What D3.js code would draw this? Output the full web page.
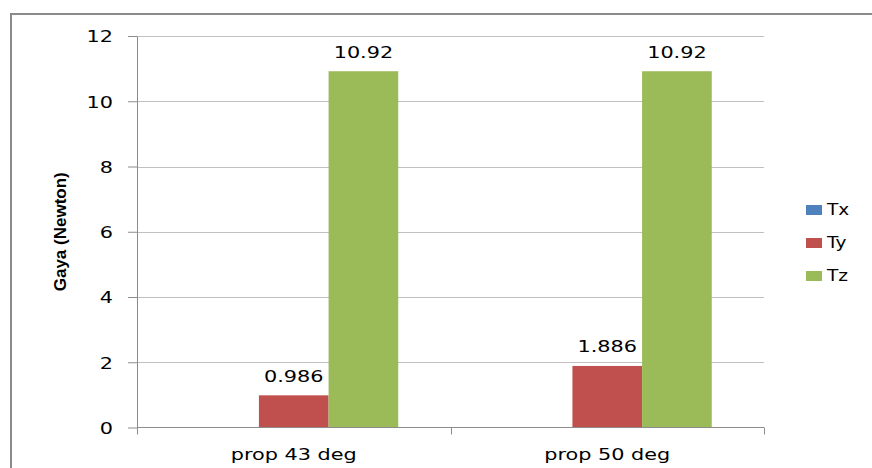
<!DOCTYPE html>
<html>
<head>
<meta charset="utf-8">
<script src="https://cdn.jsdelivr.net/npm/d3@7"></script>
<style>
  html, body { margin: 0; padding: 0; background: #fff; }
  svg { display: block; }
  text { font-family: "DejaVu Sans", sans-serif; fill: #000; }
</style>
</head>
<body>
<svg id="chart" width="872" height="468"></svg>
<script>
// Force components per propeller configuration
const categories = ["prop 43 deg", "prop 50 deg"];
const seriesNames = ["Tx", "Ty", "Tz"];
const txValues = [0, 0];
const tyValues = [0.986, 1.886];
const tzValues = [10.92, 10.92];
const seriesColors = ["#4F81BD", "#C0504D", "#9BBB59"];
const yTicks = [0, 2, 4, 6, 8, 10, 12];
const yTitle = "Gaya (Newton)";
// Which series carry a value label
const labelled = [false, true, true];

const seriesValues = [txValues, tyValues, tzValues];
const SX = 1.3; // horizontal text stretch

const svg = d3.select("#chart");
const plot = { left: 137, right: 764, top: 36, bottom: 427.5 };

// Outer frame (right/bottom edges run off the page)
svg.append("rect")
  .attr("x", 11).attr("y", 14)
  .attr("width", 900).attr("height", 500)
  .attr("fill", "none").attr("stroke", "#8a8a8a").attr("stroke-width", 2);

const y = d3.scaleLinear().domain([0, 12]).range([plot.bottom, plot.top]);
const x0 = d3.scaleBand().domain(categories).range([plot.left, plot.right])
  .paddingInner(0).paddingOuter(0);
const x1 = d3.scaleBand().domain(seriesNames).range([0, x0.bandwidth()])
  .paddingInner(0).paddingOuter(0.75);

// Horizontal gridlines
svg.append("g").selectAll("line").data(yTicks.filter(d => d > 0)).join("line")
  .attr("x1", plot.left).attr("x2", plot.right)
  .attr("y1", d => Math.round(y(d)) + 0.5).attr("y2", d => Math.round(y(d)) + 0.5)
  .attr("stroke", "#c0c0c0").attr("stroke-width", 1);

// Bars
const groups = svg.append("g").selectAll("g").data(categories).join("g")
  .attr("transform", c => `translate(${x0(c)},0)`);

groups.selectAll("rect")
  .data((c, ci) => seriesNames.map((s, si) => ({ s, si, v: seriesValues[si][ci] })))
  .join("rect")
  .attr("x", d => x1(d.s))
  .attr("width", x1.bandwidth())
  .attr("y", d => y(d.v))
  .attr("height", d => y(0) - y(d.v))
  .attr("fill", d => seriesColors[d.si]);

// Value labels
groups.selectAll("g.lbl")
  .data((c, ci) => seriesNames.map((s, si) => ({ s, si, v: seriesValues[si][ci] }))
    .filter(d => labelled[d.si]))
  .join("g").attr("class", "lbl")
  .attr("transform", d => `translate(${x1(d.s) + x1.bandwidth() / 2},${y(d.v) - 13.5}) scale(${SX},1)`)
  .append("text")
  .attr("text-anchor", "middle")
  .style("font-size", "16px")
  .attr("fill", "#111")
  .text(d => d.v);

// Y axis
const yAxis = svg.append("g")
  .attr("transform", `translate(${plot.left},0)`)
  .call(d3.axisLeft(y).tickValues(yTicks).tickSize(9).tickSizeOuter(0).tickFormat(d3.format("d")));
yAxis.select(".domain").attr("stroke", "#8c8c8c");
yAxis.selectAll(".tick line").attr("stroke", "#8c8c8c");
yAxis.selectAll(".tick text")
  .attr("x", 0).attr("dy", "0.36em")
  .attr("transform", `translate(-24,0) scale(${SX},1)`)
  .style("font-size", "16px").attr("fill", "#111")
  .style("font-family", "DejaVu Sans, sans-serif");

// X axis (category boundaries)
const xAxis = svg.append("g")
  .attr("transform", `translate(0,${plot.bottom})`);
xAxis.append("line")
  .attr("x1", plot.left).attr("x2", plot.right)
  .attr("y1", 0).attr("y2", 0).attr("stroke", "#8c8c8c");
const bounds = categories.map(c => x0(c)).concat([x0(categories[categories.length - 1]) + x0.bandwidth()]);
xAxis.selectAll("line.tk").data(bounds).join("line").attr("class", "tk")
  .attr("x1", d => Math.round(d) + 0.5).attr("x2", d => Math.round(d) + 0.5)
  .attr("y1", 0).attr("y2", 7).attr("stroke", "#8c8c8c");
xAxis.selectAll("g.cat").data(categories).join("g").attr("class", "cat")
  .attr("transform", c => `translate(${x0(c) + x0.bandwidth() / 2},32.5) scale(${SX},1)`)
  .append("text").attr("text-anchor", "middle")
  .style("font-size", "16px").attr("fill", "#111")
  .text(c => c);

// Y axis title
svg.append("text")
  .attr("transform", `translate(66,${(plot.top + plot.bottom) / 2}) rotate(-90)`)
  .attr("text-anchor", "middle")
  .style("font-family", "Liberation Sans, Arial, sans-serif")
  .style("font-weight", "bold").style("font-size", "17px")
  .text(yTitle);

// Legend
const legend = svg.append("g").attr("transform", "translate(806,0)");
const legendY = d3.scalePoint().domain(seriesNames).range([210, 276]);
const items = legend.selectAll("g").data(seriesNames).join("g")
  .attr("transform", s => `translate(0,${legendY(s)})`);
items.append("rect")
  .attr("x", 0).attr("y", -5).attr("width", 16).attr("height", 10)
  .attr("fill", (s, i) => seriesColors[i]);
items.append("g").attr("transform", `translate(21,0) scale(${SX * 0.95},1)`)
  .append("text").attr("dy", "0.36em")
  .style("font-size", "15px").attr("fill", "#111")
  .text(s => s);
</script>
</body>
</html>
